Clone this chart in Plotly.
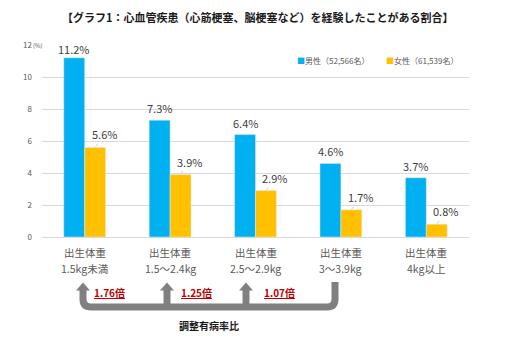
import plotly.graph_objects as go

# ---- data ----
categories = ["出生体重<br>1.5kg未満", "出生体重<br>1.5～2.4kg", "出生体重<br>2.5～2.9kg",
              "出生体重<br>3～3.9kg", "出生体重<br>4kg以上"]
male = [11.2, 7.3, 6.4, 4.6, 3.7]
female = [5.6, 3.9, 2.9, 1.7, 0.8]
male_name = "男性（52,566名）"
female_name = "女性（61,539名）"
ratios = ["1.76倍", "1.25倍", "1.07倍"]
title_text = "【グラフ1：心血管疾患（心筋梗塞、脳梗塞など）を経験したことがある割合】"
bracket_label = "調整有病率比"
yticks = [0, 2, 4, 6, 8, 10, 12]

# ---- style ----
FONT = "Noto Sans CJK JP"
BLUE = "#00b0f0"
ORANGE = "#ffc000"
GRID = "#d9d9d9"
TXT = "#595959"
W, H = 516, 351
ML, MR, MT, MB = 42, 47, 45, 114
PW, PH = W - ML - MR, H - MT - MB
BARGAP = 0.51
N = len(categories)
xs = list(range(N))


def xd(px):  # pixel -> data x
    return (px - ML) / PW * N - 0.5


def xp(px):  # pixel -> paper x
    return (px - ML) / PW


def yp(py):  # pixel -> paper y
    return (H - MB - py) / PH


fig = go.Figure()
fig.add_bar(x=xs, y=male, name=male_name, marker_color=BLUE, showlegend=False)
fig.add_bar(x=xs, y=female, name=female_name, marker_color=ORANGE, showlegend=False)

bw = (1 - BARGAP) / 2
ann = []
for i, v in enumerate(male):
    ann.append(dict(x=i - bw / 2, y=v, xref="x", yref="y", text=f"{v:.1f}%",
                    showarrow=False, xanchor="center", yanchor="middle", yshift=12 if i else 9,
                    font=dict(family=FONT, size=11, color="#404040")))
for i, v in enumerate(female):
    ann.append(dict(x=i + bw / 2, y=v, xref="x", yref="y", text=f"{v:.1f}%",
                    showarrow=True, arrowhead=0, arrowwidth=0.8, arrowcolor="#c8c8c8",
                    ax=9, ay=-13, standoff=0,
                    font=dict(family=FONT, size=11, color="#404040")))

# category labels (two lines each)
for i, c in enumerate(categories):
    l1, l2 = c.split("<br>")
    for txt, py in ((l1, 252), (l2, 268)):
        ann.append(dict(x=i, y=yp(py), xref="x", yref="paper", text=txt, showarrow=False,
                        xanchor="center", yanchor="middle",
                        font=dict(family=FONT, size=10.5, color=TXT)))

# title
ann.append(dict(x=xp(258), y=yp(17), xref="paper", yref="paper", text=f"<b>{title_text}</b>",
                showarrow=False, xanchor="center", yanchor="middle",
                font=dict(family=FONT, size=11, color="#1a1a1a")))
# legend
ann.append(dict(x=xp(333), y=yp(60), xref="paper", yref="paper",
                text=f"<span style='color:{BLUE}'>■</span>{male_name}",
                showarrow=False, xanchor="center", yanchor="middle",
                font=dict(family=FONT, size=8, color=TXT)))
ann.append(dict(x=xp(422), y=yp(60), xref="paper", yref="paper",
                text=f"<span style='color:{ORANGE}'>■</span>{female_name}",
                showarrow=False, xanchor="center", yanchor="middle",
                font=dict(family=FONT, size=8, color=TXT)))
# (%) unit
ann.append(dict(x=0, y=12, xref="paper", yref="y", xanchor="left", yanchor="middle", xshift=-11,
                text="(%)", showarrow=False, font=dict(family=FONT, size=6, color=TXT)))
# ratio labels
for lx, t in zip([109, 196, 279], ratios):
    ann.append(dict(x=xd(lx), y=yp(292), xref="x", yref="paper",
                    text=f"<b><u>{t}</u></b>", showarrow=False,
                    xanchor="center", yanchor="middle",
                    font=dict(family=FONT, size=10, color="#c00000")))
ann.append(dict(x=xd(209), y=yp(325), xref="x", yref="paper", text=f"<b>{bracket_label}</b>",
                showarrow=False, xanchor="center", yanchor="middle",
                font=dict(family=FONT, size=10, color="#1a1a1a")))

# bracket shapes
GRAY = "#808080"
arrows_px = [83, 167, 246]
right_px = 335
ybar = 307
r = 8
path = (f"M {xd(arrows_px[0])},{yp(289)} L {xd(arrows_px[0])},{yp(ybar - r)} "
        f"Q {xd(arrows_px[0])},{yp(ybar)} {xd(arrows_px[0] + r)},{yp(ybar)} "
        f"L {xd(right_px - r)},{yp(ybar)} "
        f"Q {xd(right_px)},{yp(ybar)} {xd(right_px)},{yp(ybar - r)} "
        f"L {xd(right_px)},{yp(282)}")
shapes = [dict(type="path", path=path, xref="x", yref="paper",
               line=dict(color=GRAY, width=7))]
for ax_ in arrows_px[1:]:
    shapes.append(dict(type="line", xref="x", yref="paper", x0=xd(ax_), x1=xd(ax_),
                       y0=yp(289), y1=yp(ybar), line=dict(color=GRAY, width=7)))
for ax_ in arrows_px:
    shapes.append(dict(type="path", xref="x", yref="paper",
                       path=f"M {xd(ax_ - 7)},{yp(290.5)} L {xd(ax_)},{yp(282.5)} L {xd(ax_ + 7)},{yp(290.5)} Z",
                       fillcolor=GRAY, line=dict(width=0)))

fig.update_layout(
    width=W, height=H, margin=dict(l=ML, r=MR, t=MT, b=MB),
    paper_bgcolor="white", plot_bgcolor="white",
    barmode="group", bargap=BARGAP, bargroupgap=0,
    annotations=ann, shapes=shapes,
    font=dict(family=FONT, color=TXT),
    xaxis=dict(range=[-0.5, N - 0.5], tickvals=xs, showticklabels=False,
               showgrid=False, zeroline=False, showline=False, ticks="", fixedrange=True),
    yaxis=dict(range=[0, 12], tickvals=yticks, ticktext=[str(t) for t in yticks],
               showgrid=True, gridcolor=GRID, gridwidth=1, zeroline=True,
               zerolinecolor=GRID, zerolinewidth=1, showline=False, ticks="",
               ticklabelstandoff=9,
               tickfont=dict(family=FONT, size=8, color=TXT), fixedrange=True),
)

fig.write_html("out.html")
